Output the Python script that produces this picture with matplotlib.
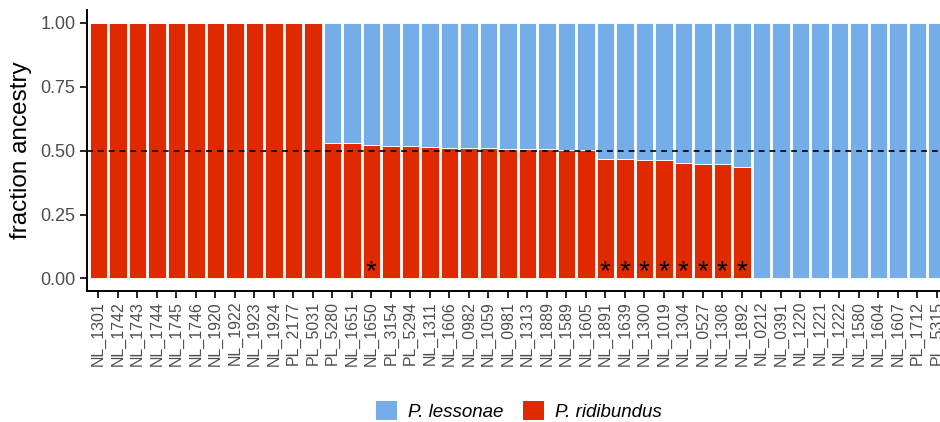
import matplotlib
matplotlib.use("Agg")
import matplotlib.pyplot as plt
from matplotlib.patches import Patch

plt.rcParams['font.family'] = ['Liberation Sans', 'DejaVu Sans']

# Sample IDs, ordered by ridibundus ancestry
samples = [
    "NL_1301", "NL_1742", "NL_1743", "NL_1744", "NL_1745", "NL_1746",
    "NL_1920", "NL_1922", "NL_1923", "NL_1924", "PL_2177", "PL_5031",
    "PL_5280", "NL_1651", "NL_1650", "PL_3154", "PL_5294", "NL_1311",
    "NL_1606", "NL_0982", "NL_1059", "NL_0981", "NL_1313", "NL_1889",
    "NL_1589", "NL_1605", "NL_1891", "NL_1639", "NL_1300", "NL_1019",
    "NL_1304", "NL_0527", "NL_1308", "NL_1892", "NL_0212", "NL_0391",
    "NL_1220", "NL_1221", "NL_1222", "NL_1580", "NL_1604", "NL_1607",
    "PL_1712", "PL_5315",
]

# Fraction of P. ridibundus ancestry per sample
ridibundus = [
    1.00, 1.00, 1.00, 1.00, 1.00, 1.00, 1.00, 1.00, 1.00, 1.00, 1.00, 1.00,
    0.531, 0.528, 0.522, 0.519, 0.517, 0.515, 0.512, 0.511, 0.510, 0.507,
    0.507, 0.505, 0.504, 0.502,
    0.469, 0.467, 0.463, 0.462, 0.451, 0.448, 0.447, 0.435,
    0.0, 0.0, 0.0, 0.0, 0.0, 0.0, 0.0, 0.0, 0.0, 0.0,
]
lessonae = [1.0 - r for r in ridibundus]

# Samples flagged with an asterisk
flagged = ["NL_1650", "NL_1891", "NL_1639", "NL_1300", "NL_1019",
           "NL_1304", "NL_0527", "NL_1308", "NL_1892"]

col_less = "#74ADE8"
col_ridi = "#DF2A00"

fig = plt.figure(figsize=(9.4, 4.22), dpi=100)
ax = fig.add_axes([86.6 / 940, 0.310, (948.5 - 86.6) / 940, 0.666])

x = list(range(len(samples)))
ax.bar(x, ridibundus, width=0.9, color=col_ridi, edgecolor="white", linewidth=0.6)
ax.bar(x, lessonae, bottom=ridibundus, width=0.9, color=col_less,
       edgecolor="white", linewidth=0.6)

ax.axhline(0.5, color="black", linestyle=(0, (3.5, 3)), linewidth=1.2, zorder=3)

for i, s in enumerate(samples):
    if s in flagged:
        ax.text(i, -0.028, "*", ha="center", va="bottom", fontsize=20,
                color="black", zorder=4)

ax.set_xlim(-0.6, len(samples) - 0.4)
ax.set_ylim(-0.05, 1.05)
ax.set_yticks([0, 0.25, 0.5, 0.75, 1.0])
ax.set_yticklabels(["0.00", "0.25", "0.50", "0.75", "1.00"])
ax.set_xticks(x)
ax.set_xticklabels(samples, rotation=90)

for side in ("top", "right"):
    ax.spines[side].set_visible(False)
for side in ("left", "bottom"):
    ax.spines[side].set_linewidth(1.4)
    ax.spines[side].set_color("black")

ax.tick_params(axis="y", labelsize=13, labelcolor="#4D4D4D", length=5, width=1.2, pad=3)
ax.tick_params(axis="x", labelsize=11.5, labelcolor="#4D4D4D", length=5, width=1.2, pad=2)
ax.set_ylabel("fraction ancestry", fontsize=17.5, color="black", labelpad=6)

handles = [Patch(facecolor=col_less, edgecolor="none", label="P. lessonae"),
           Patch(facecolor=col_ridi, edgecolor="none", label="P. ridibundus")]
fig.legend(handles=handles, loc="center", bbox_to_anchor=(0.552, 0.026), ncol=2,
           frameon=False, prop={"size": 13.5, "style": "italic"},
           handlelength=1.15, handleheight=1.15, handletextpad=0.6, columnspacing=1.0)

fig.savefig("out.png", dpi=100)
